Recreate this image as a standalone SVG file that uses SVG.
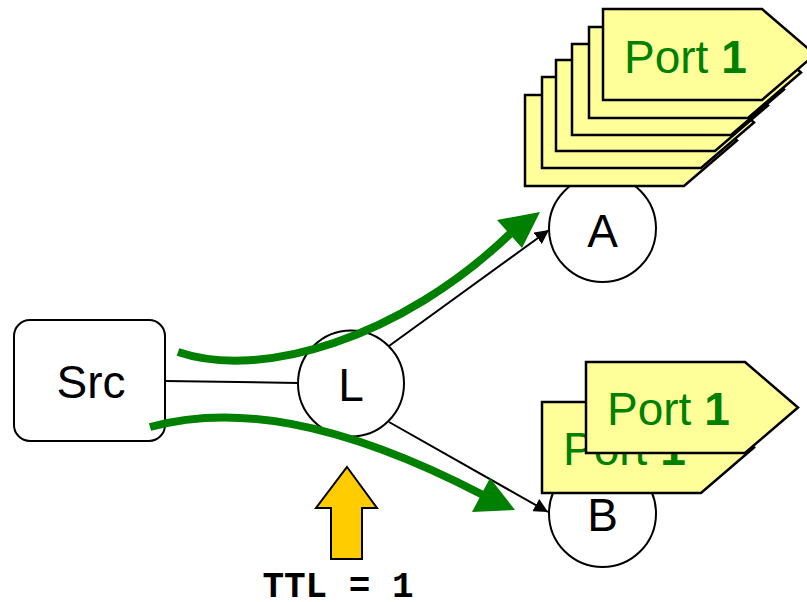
<svg xmlns="http://www.w3.org/2000/svg" xmlns:xlink="http://www.w3.org/1999/xlink" width="807" height="602" viewBox="0 0 807 602">
<style>
.lbl{font-family:"Liberation Sans",Arial,sans-serif;font-size:46px;fill:#000;text-anchor:middle}
.port{fill:#FFFF99;stroke:#000;stroke-width:2.5;stroke-linejoin:miter}
.ptxt{font-family:"Liberation Sans",Arial,sans-serif;font-size:46px;fill:#008000}
.node{fill:#fff;stroke:#000;stroke-width:2}
.link{stroke:#000;stroke-width:2;fill:none}
.flow{stroke:#008000;stroke-width:8;fill:none}
.head{fill:#008000}
.ttl{font-family:"Liberation Mono","Courier New",monospace;font-weight:bold;font-size:36px;fill:#000;text-anchor:middle}
</style>
<defs>
<path id="tag" d="M0,0 h159 l53,45.5 l-53,45.5 h-159 z"/>
<marker id="ah" viewBox="0 0 10 10" refX="10" refY="5" markerWidth="7" markerHeight="7" orient="auto" markerUnits="strokeWidth">
<path d="M0,0 L10,5 L0,10 z" fill="#000"/>
</marker>
</defs>
<g id="src">
<rect class="node" x="14" y="320" width="151" height="121" rx="16"/>
<text class="lbl" x="91" y="398">Src</text>
</g>
<g id="L">
<circle class="node" cx="351" cy="383.5" r="53"/>
<text class="lbl" x="351" y="401">L</text>
</g>
<g id="A">
<circle class="node" cx="602.5" cy="228.5" r="53.5"/>
<text class="lbl" x="602.5" y="247">A</text>
</g>
<g id="B">
<circle class="node" cx="602.5" cy="513.5" r="53.5"/>
<text class="lbl" x="602.5" y="531">B</text>
</g>
<g id="portsA">
<use href="#tag" class="port" x="525" y="95"/>
<use href="#tag" class="port" x="542" y="77"/>
<use href="#tag" class="port" x="556" y="60"/>
<use href="#tag" class="port" x="572" y="44"/>
<use href="#tag" class="port" x="589" y="27"/>
<use href="#tag" class="port" x="603" y="9"/>
<text class="ptxt" x="624" y="73">Port <tspan font-weight="bold">1</tspan></text>
</g>
<g id="portsB">
<use href="#tag" class="port" x="542" y="402"/>
<text class="ptxt" x="563" y="465">Port <tspan font-weight="bold">1</tspan></text>
<use href="#tag" class="port" x="586" y="362"/>
<text class="ptxt" x="607" y="425">Port <tspan font-weight="bold">1</tspan></text>
</g>
<g id="connectors">
<line class="link" x1="165" y1="381" x2="298" y2="383"/>
<line class="link" x1="389" y1="346" x2="549" y2="230" marker-end="url(#ah)"/>
<line class="link" x1="389" y1="422" x2="548" y2="512" marker-end="url(#ah)"/>
<path class="flow" d="M178,352 C260,380 400,340 512,232"/>
<polygon class="head" points="540,212 497,220 522,248"/>
<path class="flow" d="M150,427 C230,405 335,418 483,495"/>
<polygon class="head" points="515,510 472,512 490,478"/>
</g>
<g id="ttl">
<polygon points="347,467 377,508 362,508 362,559 331,559 331,508 316,508" fill="#FFCC00" stroke="#000" stroke-width="2"/>
<text class="ttl" x="338" y="597">TTL = 1</text>
</g>
</svg>
